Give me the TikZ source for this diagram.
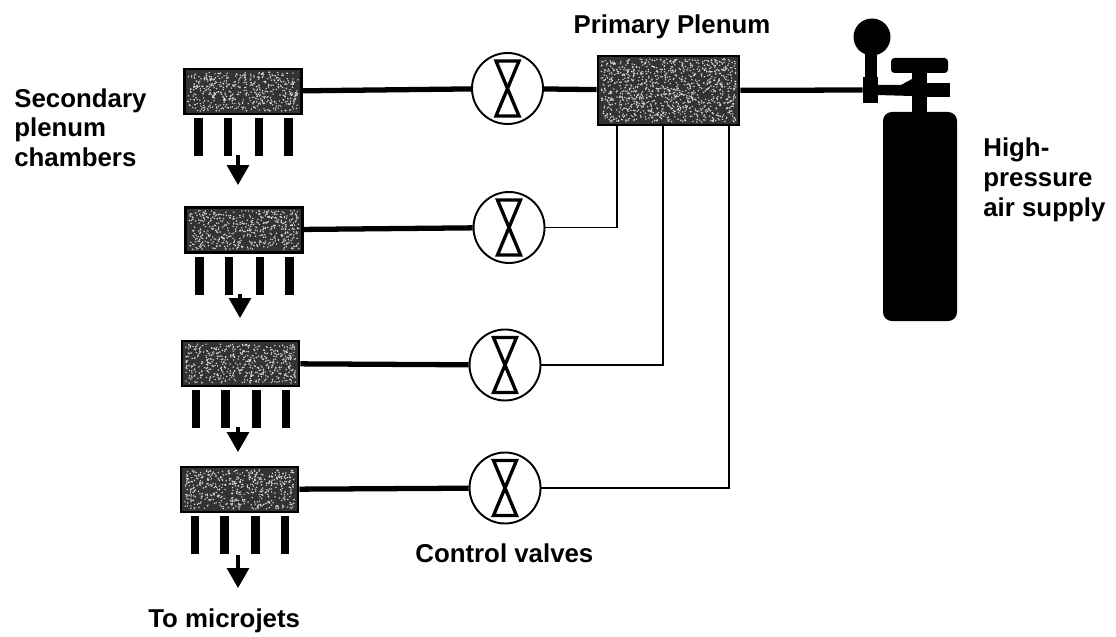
\documentclass[tikz,border=0pt]{standalone}
\usepackage{fontspec}
\setmainfont{Liberation Sans}
\usetikzlibrary{positioning,arrows.meta,calc}

\begin{document}
\begin{tikzpicture}[
  font=\fontsize{14.7}{17}\selectfont\bfseries,
  >=Triangle,
  speckle/.style n args={3}{path picture={
    \foreach \i in {1,...,#3} {
      \pgfmathsetmacro{\dx}{(rnd-0.5)*#1}
      \pgfmathsetmacro{\dy}{(rnd-0.5)*#2}
      \fill[white!85!black] ($(path picture bounding box.center)+(\dx,\dy)$) circle (0.016);
    }}},
  secbox/.style={rectangle, draw=black, fill=black!80, line width=1.5pt, minimum width=2.34cm, minimum height=0.90cm, inner sep=0pt, speckle={2.2}{0.78}{520}},
  primbox/.style={rectangle, draw=black, fill=black!80, line width=1.5pt, minimum width=2.82cm, minimum height=1.38cm, inner sep=0pt, speckle={2.7}{1.26}{1100}},
  rod/.style={rectangle, fill=black, minimum width=0.17cm, minimum height=0.76cm, inner sep=0pt},
  valve/.style={circle, draw=black, fill=white, line width=1.1pt, minimum size=1.42cm, inner sep=0pt, path picture={
    \draw[line width=1.9pt, line join=miter] ($(path picture bounding box.center)+(-0.23,0.55)$) -- ++(0.46,0) -- ++(-0.46,-1.10) -- ++(0.46,0) -- cycle;}},
  mainpipe/.style={draw=black, line width=3pt},
  branch/.style={draw=black, line width=1.1pt},
  flowarrow/.style={-{Triangle[length=4mm,width=4.4mm]}, draw=black, line width=1.9pt},
  caption/.style={align=left, inner sep=0pt, anchor=north west}
]
  \useasboundingbox (0,0) rectangle (22.32,12.72);

  % secondary chambers
  \node[secbox] (b1) at (4.86,10.89) {};
  \node[secbox] (b2) at (4.88,8.12) {};
  \node[secbox] (b3) at (4.81,5.45) {};
  \node[secbox] (b4) at (4.79,2.93) {};

  % rods below the chambers
  \node[rod, below=0.05cm of b1.south, xshift=-0.89cm] (r11) {};
  \node[rod, below=0.05cm of b1.south, xshift=-0.30cm] (r12) {};
  \node[rod, below=0.05cm of b1.south, xshift=0.32cm] (r13) {};
  \node[rod, below=0.05cm of b1.south, xshift=0.91cm] (r14) {};
  \node[rod, below=0.05cm of b2.south, xshift=-0.89cm] (r21) {};
  \node[rod, below=0.05cm of b2.south, xshift=-0.30cm] (r22) {};
  \node[rod, below=0.05cm of b2.south, xshift=0.32cm] (r23) {};
  \node[rod, below=0.05cm of b2.south, xshift=0.91cm] (r24) {};
  \node[rod, below=0.05cm of b3.south, xshift=-0.89cm] (r31) {};
  \node[rod, below=0.05cm of b3.south, xshift=-0.30cm] (r32) {};
  \node[rod, below=0.05cm of b3.south, xshift=0.32cm] (r33) {};
  \node[rod, below=0.05cm of b3.south, xshift=0.91cm] (r34) {};
  \node[rod, below=0.05cm of b4.south, xshift=-0.89cm] (r41) {};
  \node[rod, below=0.05cm of b4.south, xshift=-0.30cm] (r42) {};
  \node[rod, below=0.05cm of b4.south, xshift=0.32cm] (r43) {};
  \node[rod, below=0.05cm of b4.south, xshift=0.91cm] (r44) {};

  % flow arrows
  \coordinate (a1s) at (4.76,9.62);
  \coordinate (a1e) at (4.76,9.02);
  \coordinate (a2s) at (4.80,6.84);
  \coordinate (a2e) at (4.80,6.36);
  \coordinate (a3s) at (4.76,4.18);
  \coordinate (a3e) at (4.76,3.68);
  \coordinate (a4s) at (4.76,1.62);
  \coordinate (a4e) at (4.76,0.96);
  \draw[flowarrow] (a1s) -- (a1e);
  \draw[flowarrow] (a2s) -- (a2e);
  \draw[flowarrow] (a3s) -- (a3e);
  \draw[flowarrow] (a4s) -- (a4e);

  % valves and primary plenum
  \node[valve] (v1) at (10.15,10.95) {};
  \node[valve] (v2) at (10.18,8.17) {};
  \node[valve] (v3) at (10.10,5.42) {};
  \node[valve] (v4) at (10.10,2.96) {};
  \node[primbox] (pp) at (13.37,10.91) {};

  \draw[mainpipe] (b1) -- (v1);
  \draw[mainpipe] (b2) -- (v2);
  \draw[mainpipe] (b3) -- (v3);
  \draw[mainpipe] (b4) -- (v4);
  \draw[mainpipe] (v1) -- (pp);

  \coordinate (t2) at (12.34,10.20);
  \coordinate (t3) at (13.26,10.20);
  \coordinate (t4) at (14.58,10.20);
  \draw[branch] (v2) -| (t2);
  \draw[branch] (v3) -| (t3);
  \draw[branch] (v4) -| (t4);

  % air bottle
  \node[rectangle, fill=black, rounded corners=5pt, minimum width=1.48cm, minimum height=4.18cm, inner sep=0pt] (tank) at (18.40,8.39) {};
  \node[circle, fill=black, minimum size=0.74cm, inner sep=0pt] (gauge) at (17.44,11.98) {};
  \node[rectangle, fill=black, minimum width=0.30cm, minimum height=0.52cm, inner sep=0pt] (block) at (17.41,10.92) {};
  \fill (17.30,11.72) rectangle (17.54,11.16);
  \fill (17.54,11.02) -- (18.02,11.02) -- (18.24,11.14) -- (18.24,10.80) -- (17.54,10.82) -- cycle;
  \fill (18.24,11.46) rectangle (18.54,10.46);
  \fill (18.24,11.06) rectangle (19.00,10.78);
  \fill[rounded corners=2pt] (17.82,11.56) rectangle (18.96,11.26);
  \draw[mainpipe] (pp) -- (block);

  % labels
  \node[caption] (seclabel) at (0.28,10.96) {Secondary\\plenum\\chambers};
  \node[inner sep=0pt] (pplabel) at (13.44,12.19) {Primary Plenum};
  \node[caption] (airlabel) at (19.66,9.97) {High-\\pressure\\air supply};
  \node[inner sep=0pt, anchor=west] (cvlabel) at (8.30,1.66) {Control valves};
  \node[inner sep=0pt, anchor=west] (mjlabel) at (2.96,0.31) {To microjets};
\end{tikzpicture}
\end{document}
